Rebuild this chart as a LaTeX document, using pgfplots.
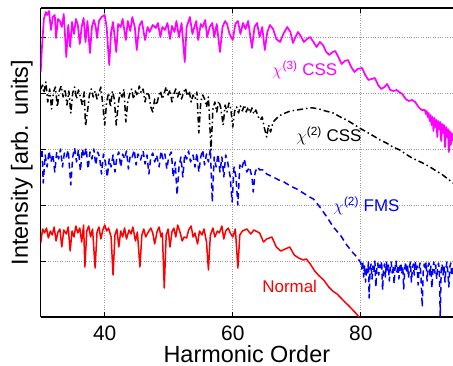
\documentclass[border=0pt]{standalone}
\usepackage{pgfplots}
\pgfplotsset{compat=1.18}
\usepackage{fontspec}
\setmainfont{Liberation Sans}
\begin{document}
\begin{tikzpicture}
\useasboundingbox (-40.7bp,-49bp) rectangle (412.3bp,317bp);
\begin{axis}[
  at={(0,0)}, anchor=south west,
  scale only axis, width=412.3bp, height=309bp,
  xmin=30, xmax=94.4, ymin=0, ymax=309,
  axis y line*=left,
  xtick={40,60,80}, ytick={56,112,168,224,280}, yticklabels={},
  tick align=inside, major tick length=5bp,
  xtick pos=both,
  grid=major, major grid style={dotted, gray!80, line width=0.7bp},
  axis line style={line width=1.4bp},
  tick style={black, line width=0.8bp},
  /pgf/number format/assume math mode=true,
  xticklabel style={font=\fontsize{21}{25}\selectfont, anchor=base, yshift=-23.5bp},
  xlabel={Harmonic Order},
  ylabel={Intensity [arb. units]},
  xlabel style={font=\fontsize{23.5}{28}\selectfont, at={(axis description cs:0.5,-0.147)}, anchor=base},
  ylabel style={font=\fontsize{23.5}{28}\selectfont, at={(axis description cs:-0.031,0.5)}, anchor=base},
  every axis plot/.append style={line width=1.5bp, line join=round},
]
% chi(3) CSS (magenta)
\addplot[color={rgb,255:red,255;green,0;blue,255}, line width=1.7bp] coordinates {
(30.0,245) (30.2,270) (30.5,298) (30.8,305) (31.0,302) (31.3,306) (31.6,287) (31.9,300) (32.2,302) (32.4,279)
(32.7,298) (33.0,296) (33.3,290) (33.6,303) (34.0,260) (34.3,292) (34.6,270) (34.9,295) (35.2,283) (35.5,298)
(35.8,292) (36.1,273) (36.4,290) (36.7,299) (37.0,275) (37.3,296) (37.7,264) (38.0,290) (38.3,297) (38.6,290)
(38.8,279) (39.1,296) (39.5,300) (40.0,302) (40.3,290) (40.7,252) (41.0,285) (41.3,295) (41.8,265) (42.1,293)
(42.5,290) (42.8,298) (43.3,277) (43.6,296) (44.0,286) (44.3,300) (44.7,290) (45.0,267) (45.4,291) (45.8,296)
(46.3,277) (46.7,290) (47.0,285) (47.5,292) (48.0,289) (48.3,294) (48.7,280) (49.0,290) (49.4,287) (49.8,294)
(50.2,278) (50.5,291) (50.9,285) (51.2,296) (51.6,280) (52.0,294) (52.5,255) (52.8,290) (53.3,300) (53.7,283)
(54.0,290) (54.3,296) (54.6,277) (55.0,293) (55.3,290) (55.7,297) (56.0,280) (56.4,290) (56.8,294) (57.1,280)
(57.5,293) (58.0,265) (58.4,290) (58.8,296) (59.1,293) (59.5,283) (60.0,277) (60.4,293) (60.8,296) (61.2,283)
(61.6,294) (62.0,288) (62.4,296) (62.8,278) (63.0,269) (63.4,290) (63.8,294) (64.2,280) (64.6,290) (65.0,267)
(65.4,285) (65.8,292) (66.3,288) (66.8,278) (67.4,275) (67.9,283) (68.5,290) (69.0,285) (69.4,274) (69.8,280)
(70.2,285) (70.7,280) (71.1,275) (71.6,278) (72.1,280) (72.6,275) (73.1,270) (73.6,275) (74.1,272) (74.6,265)
(75.1,262) (75.6,265) (76.0,266) (76.5,260) (77.0,253) (77.5,256) (78.0,257) (78.5,250) (79.0,245) (79.5,248)
(80.2,249) (80.7,242) (81.2,237) (81.7,238) (82.2,239) (82.7,232) (83.2,228) (83.7,230) (84.1,233) (84.6,227)
(85.1,226) (85.6,227) (86.0,225) (86.5,223) (87.0,218) (87.5,216) (88.0,217) (88.5,215) (89.0,210) (89.5,207)
(90.0,207) (90.15,203) (90.3,206) (90.45,200) (90.6,204) (90.75,196) (90.9,202) (91.05,192) (91.2,200) (91.35,186)
(91.5,199) (91.65,190) (91.8,197) (91.95,180) (92.1,196) (92.25,188) (92.4,195) (92.55,176) (92.7,193) (92.85,184)
(93.0,192) (93.15,170) (93.3,190) (93.45,180) (93.6,188) (93.75,165) (93.9,186) (94.05,172) (94.2,184) (94.4,176)
};
% chi(2) CSS (black, dash-dot)
\addplot[black, dash pattern=on 6bp off 3bp on 1.5bp off 3bp] coordinates {
(30.0,228) (30.3,232) (30.5,224) (30.8,235) (31.1,215) (31.4,228) (31.7,208) (32.0,225) (32.3,230) (32.6,210)
(32.9,226) (33.2,231) (33.5,220) (33.8,228) (34.1,212) (34.4,226) (34.7,204) (35.0,224) (35.3,230) (35.6,218)
(35.9,227) (36.2,220) (36.5,212) (36.8,225) (37.0,191) (37.3,205) (37.6,222) (37.9,228) (38.2,220) (38.5,226)
(38.8,218) (39.1,224) (39.4,230) (39.7,212) (40.0,192) (40.3,215) (40.6,224) (40.9,210) (41.2,226) (41.5,218)
(41.8,192) (42.1,212) (42.4,225) (42.7,220) (43.0,228) (43.3,195) (43.6,215) (43.9,223) (44.2,228) (44.5,218)
(44.8,226) (45.1,221) (45.4,231) (45.7,224) (46.0,228) (46.3,215) (46.6,225) (46.9,222) (47.2,210) (47.5,205)
(47.8,218) (48.1,212) (48.4,220) (48.7,226) (49.0,218) (49.3,224) (49.6,230) (49.9,222) (50.2,227) (50.5,215)
(50.8,223) (51.1,228) (51.4,220) (51.7,226) (52.0,218) (52.3,224) (52.6,229) (52.9,221) (53.2,226) (53.5,215)
(53.8,222) (54.1,218) (54.4,225) (54.7,184) (55.0,215) (55.3,222) (55.6,218) (55.9,210) (56.2,220) (56.6,167)
(56.9,208) (57.2,215) (57.5,205) (57.8,216) (58.1,210) (58.5,192) (58.8,212) (59.1,205) (59.4,214) (59.7,208)
(60.0,190) (60.3,206) (60.6,210) (60.9,204) (61.2,211) (61.5,206) (61.8,212) (62.1,205) (62.4,210) (62.7,204)
(63.0,209) (63.3,203) (63.6,207) (64.0,200) (64.3,197) (64.6,200) (64.9,190) (65.3,180) (65.6,192) (65.9,185)
(66.3,195) (66.9,199) (67.5,202) (68.2,204) (69.0,206) (70.0,207) (71.0,208) (72.0,209) (72.6,209) (73.5,208)
(74.5,206) (75.7,204) (76.8,200) (77.8,197) (78.8,193) (79.8,189) (80.9,185) (82.0,181) (83.0,177) (84.0,174)
(85.0,170) (86.1,167) (87.0,163) (88.0,159) (89.0,156) (90.0,153) (90.8,150) (91.8,146) (92.8,142) (93.8,137)
(94.4,134)
};
% chi(2) FMS (blue, dashed)
\addplot[color={rgb,255:red,0;green,0;blue,255}, dash pattern=on 6bp off 4bp] coordinates {
(30.0,160) (30.2,168) (30.4,134) (30.7,162) (31.0,150) (31.3,166) (31.6,155) (31.9,163) (32.2,145) (32.5,165)
(32.8,158) (33.1,168) (33.4,150) (33.7,164) (34.0,160) (34.3,167) (34.7,132) (35.0,160) (35.3,169) (35.6,155)
(35.9,167) (36.2,146) (36.5,168) (36.8,160) (37.1,169) (37.4,148) (37.7,165) (38.0,158) (38.3,168) (38.6,152)
(38.9,165) (39.2,160) (39.5,143) (39.8,163) (40.1,155) (40.4,140) (40.7,158) (41.0,150) (41.3,162) (41.6,145)
(41.9,160) (42.2,165) (42.5,150) (42.8,163) (43.1,158) (43.4,166) (43.7,148) (44.0,162) (44.3,160) (44.6,167)
(44.9,152) (45.2,163) (45.6,157) (46.0,166) (46.3,153) (46.6,162) (46.9,143) (47.2,160) (47.5,164) (47.8,155)
(48.1,162) (48.5,150) (48.8,166) (49.1,158) (49.4,163) (49.7,148) (50.0,160) (50.4,165) (50.7,140) (51.0,155)
(51.3,122) (51.6,150) (51.9,160) (52.2,140) (52.5,163) (52.8,158) (53.1,166) (53.4,155) (53.8,162) (54.1,150)
(54.4,164) (54.7,145) (55.0,160) (55.3,167) (55.6,152) (55.9,163) (56.2,155) (56.5,168) (56.8,115) (57.1,160)
(57.4,150) (57.7,163) (58.0,145) (58.3,160) (58.6,140) (58.9,162) (59.2,155) (59.6,140) (59.9,115) (60.2,150)
(60.5,140) (60.8,112) (61.1,152) (61.4,148) (61.8,158) (62.2,145) (62.6,150) (63.0,140) (63.2,125) (63.5,145)
(63.9,150) (64.2,147) (64.8,147) (65.3,143) (66.3,140) (67.2,137) (68.0,135) (69.0,131) (70.0,128) (71.0,124)
(72.0,120) (72.6,118) (73.6,110) (74.7,100) (75.7,90) (76.8,82) (77.8,72) (78.8,64) (79.4,60)
(80.0,54) (80.15,48) (80.3,56) (80.45,40) (80.6,52) (80.75,35) (80.9,50) (81.05,44) (81.2,55) (81.3,19)
(81.45,47) (81.6,53) (81.75,38) (81.9,51) (82.05,45) (82.2,56) (82.35,30) (82.5,49) (82.65,54) (82.8,42)
(82.95,52) (83.1,47) (83.25,56) (83.4,27) (83.55,48) (83.7,53) (83.85,40) (84.0,55) (84.15,46) (84.3,52)
(84.45,36) (84.6,50) (84.75,55) (84.9,44) (85.05,51) (85.2,33) (85.35,49) (85.5,56) (85.65,45) (85.8,52)
(85.95,38) (86.1,50) (86.25,54) (86.4,43) (86.55,51) (86.7,28) (86.85,47) (87.0,55) (87.15,44) (87.3,52)
(87.45,39) (87.6,50) (87.75,55) (87.9,35) (88.05,48) (88.2,53) (88.35,42) (88.5,56) (88.65,46) (88.8,51)
(88.95,32) (89.1,49) (89.25,54) (89.4,40) (89.6,10) (89.75,45) (89.9,53) (90.05,47) (90.2,55) (90.35,36)
(90.5,50) (90.65,54) (90.8,42) (90.95,51) (91.1,29) (91.25,48) (91.4,55) (91.55,44) (91.7,52) (91.85,38)
(92.0,50) (92.15,54) (92.3,40) (92.4,0) (92.55,46) (92.7,53) (92.85,42) (93.0,51) (93.15,35) (93.3,49)
(93.45,55) (93.6,44) (93.75,30) (93.9,50) (94.05,54) (94.2,41) (94.4,50)
};
% Normal (red)
\addplot[color={rgb,255:red,255;green,0;blue,0}] coordinates {
(30.0,74) (30.3,88) (30.6,84) (30.9,89) (31.2,79) (31.5,86) (31.8,82) (32.1,90) (32.4,76) (32.7,85)
(33.0,88) (33.3,70) (33.6,87) (34.0,83) (34.3,90) (34.6,66) (34.9,86) (35.2,80) (35.5,91) (35.8,84)
(36.1,89) (36.4,75) (36.7,92) (36.9,50) (37.2,86) (37.5,91) (37.8,80) (38.1,88) (38.5,49) (38.8,85)
(39.1,90) (39.4,78) (39.7,87) (40.0,92) (40.3,86) (40.6,89) (41.0,80) (41.3,42) (41.6,82) (41.9,88)
(42.2,70) (42.5,86) (42.8,80) (43.1,89) (43.4,78) (43.8,87) (44.1,83) (44.4,90) (44.8,76) (45.1,85)
(45.5,50) (45.8,82) (46.1,88) (46.4,80) (46.8,85) (47.2,89) (47.5,84) (47.8,73) (48.2,86) (48.5,90)
(48.8,80) (49.0,84) (49.3,29) (49.6,82) (49.9,88) (50.2,70) (50.5,85) (50.8,89) (51.1,80) (51.4,92)
(51.8,84) (52.1,76) (52.4,80) (52.8,79) (53.1,87) (53.5,91) (53.8,80) (54.1,84) (54.5,73) (54.8,86)
(55.2,82) (55.5,88) (55.9,75) (56.2,47) (56.5,82) (56.9,89) (57.2,80) (57.6,86) (57.9,84) (58.3,91)
(58.6,78) (58.9,86) (59.3,89) (59.6,84) (60.0,80) (60.4,88) (60.8,49) (61.1,82) (61.5,86) (62.2,88)
(62.8,83) (63.3,87) (64.2,84) (64.8,75) (65.3,78) (66.1,80) (66.8,70) (67.5,66) (68.2,68) (68.9,70)
(69.6,62) (70.3,59) (71.0,57) (71.5,58) (72.1,53) (72.8,46) (73.5,41) (74.2,37) (75.0,30) (75.6,26)
(76.3,23) (76.9,19) (77.5,15) (78.0,12) (78.6,8) (79.2,4) (79.7,0)
};
\node[anchor=base west, inner sep=0pt, font=\fontsize{17}{20}\selectfont, color={rgb,255:red,255;green,0;blue,255}] at (axis cs:66.1,241) {$\chi$\textsuperscript{(3)} CSS};
\node[anchor=base west, inner sep=0pt, font=\fontsize{17}{20}\selectfont, black] at (axis cs:69.9,175) {$\chi$\textsuperscript{(2)} CSS};
\node[anchor=base west, inner sep=0pt, font=\fontsize{17}{20}\selectfont, color={rgb,255:red,0;green,0;blue,255}] at (axis cs:75.7,105) {$\chi$\textsuperscript{(2)} FMS};
\node[anchor=base west, inner sep=0pt, font=\fontsize{17}{20}\selectfont, color={rgb,255:red,255;green,0;blue,0}] at (axis cs:64.6,25) {Normal};
\end{axis}
\end{tikzpicture}
\end{document}
